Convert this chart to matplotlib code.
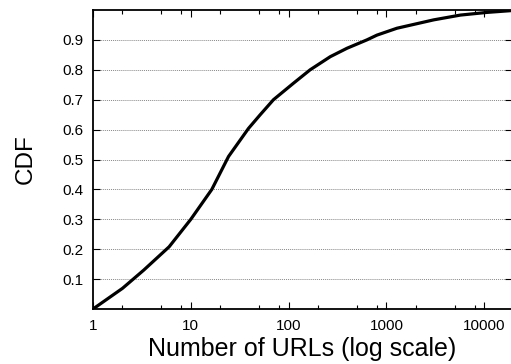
import matplotlib
matplotlib.use("Agg")
import matplotlib.pyplot as plt
from matplotlib.ticker import FixedLocator, NullFormatter

plt.rcParams['font.family'] = ['Liberation Sans', 'DejaVu Sans']

num_urls = [1, 2, 3.3, 6, 10, 16.4, 24.3, 38.9, 51, 70, 112, 166, 267, 395, 631, 800, 1280, 3040, 5700, 10700, 19000]
cdf = [0.0, 0.069, 0.13, 0.208, 0.30, 0.40, 0.51, 0.604, 0.649, 0.70, 0.755, 0.80, 0.844, 0.872, 0.90, 0.916, 0.939, 0.967, 0.983, 0.992, 0.998]

x_ticks = [1, 10, 100, 1000, 10000]
x_tick_labels = ["1", "10", "100", "1000", "10000"]
y_ticks = [0.1, 0.2, 0.3, 0.4, 0.5, 0.6, 0.7, 0.8, 0.9]
y_tick_labels = ["0.1", "0.2", "0.3", "0.4", "0.5", "0.6", "0.7", "0.8", "0.9"]
minor_x = [m * d for d in [1, 10, 100, 1000, 10000] for m in (2, 5, 8)]

fig = plt.figure(figsize=(5.11, 3.64), dpi=100)
ax = fig.add_axes([93 / 511, 1 - 309 / 364, (511.5 - 93) / 511, (309 - 10) / 364])

ax.plot(num_urls, cdf, color='black', linewidth=2.3, solid_joinstyle='round')
ax.set_xscale('log')
ax.set_xlim(1, 19000)
ax.set_ylim(0, 1)

ax.set_xticks(x_ticks)
ax.set_xticklabels(x_tick_labels, fontsize=11)
ax.xaxis.set_minor_locator(FixedLocator(minor_x))
ax.xaxis.set_minor_formatter(NullFormatter())
ax.set_yticks(y_ticks)
ax.set_yticklabels(y_tick_labels, fontsize=11)

ax.tick_params(axis='both', which='major', direction='in', length=5, width=0.8,
               top=True, right=True, pad=7)
ax.tick_params(axis='x', which='minor', direction='in', length=3, width=0.8,
               top=True, bottom=True)
ax.yaxis.grid(True, linestyle=(0, (1, 1)), color='#888888', linewidth=0.7)
ax.set_axisbelow(True)
for s in ax.spines.values():
    s.set_linewidth(1.3)

ax.set_xlabel("Number of URLs (log scale)", fontsize=18, labelpad=3)
ax.set_ylabel("CDF", fontsize=17.5, labelpad=18)

fig.savefig("out.png", dpi=100)
